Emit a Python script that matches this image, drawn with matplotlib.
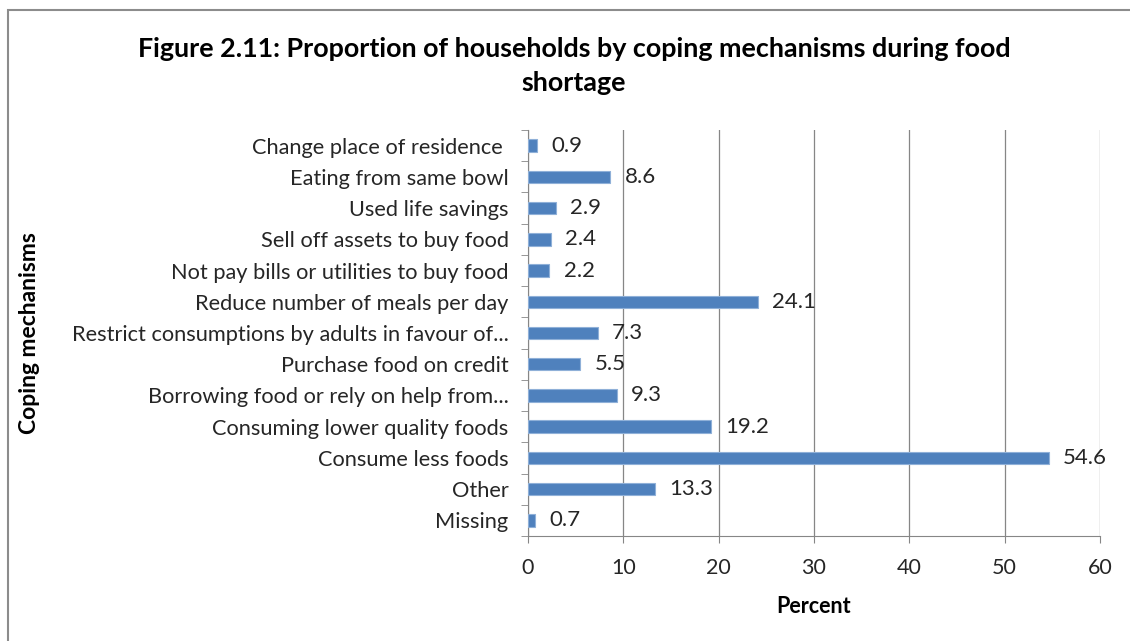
import numpy as np
import matplotlib.pyplot as plt
from matplotlib.patches import Rectangle

plt.rcParams['font.family'] = ['Lato', 'DejaVu Sans']

categories = ['Change place of residence ', 'Eating from same bowl', 'Used life savings',
              'Sell off assets to buy food', 'Not pay bills or utilities to buy food',
              'Reduce number of meals per day', 'Restrict consumptions by adults in favour of...',
              'Purchase food on credit', 'Borrowing food or rely on help from...',
              'Consuming lower quality foods', 'Consume less foods', 'Other', 'Missing']
percent = [0.9, 8.6, 2.9, 2.4, 2.2, 24.1, 7.3, 5.5, 9.3, 19.2, 54.6, 13.3, 0.7]
xticks = [0, 10, 20, 30, 40, 50, 60]

W, H = 1130, 641
fig = plt.figure(figsize=(W / 100, H / 100), dpi=100)
fig.patches.append(Rectangle((8 / W, -0.1), 1.2, 1 - 10 / H + 0.1, transform=fig.transFigure,
                             fill=False, edgecolor='#8c8c8c', lw=1.5))

ax = fig.add_axes([528 / W, 1 - 536 / H, (1100 - 528) / W, (536 - 130) / H])
y = np.arange(len(categories))
ax.barh(y, percent, height=0.4, color='#4f81bd', edgecolor='#8fb0d8', lw=0.8, zorder=3)
for yi, v in zip(y, percent):
    ax.annotate(f'{v}', (v, yi), xytext=(10.5, 0), textcoords='offset points',
                va='center', ha='left', fontsize=16, color='#262626')

ax.set_ylim(len(categories) - 0.5, -0.5)
ax.set_xlim(0, 60)
ax.set_xticks(xticks)
ax.set_yticks(y)
ax.set_yticklabels(categories, fontsize=15.7, color='#262626')
ax.set_yticks(np.arange(-0.5, len(categories)), minor=True)
ax.tick_params(axis='y', which='major', length=0, pad=14)
ax.tick_params(axis='y', which='minor', length=5, color='#868686')
ax.tick_params(axis='x', length=5, color='#868686', labelsize=15.5, labelcolor='#262626', pad=11)
ax.grid(axis='x', color='#868686', lw=0.9, zorder=0)
for s in ['top', 'right']:
    ax.spines[s].set_visible(False)
for s in ['left', 'bottom']:
    ax.spines[s].set_color('#868686')

ax.set_xlabel('Percent', fontsize=15.5, fontweight='bold', labelpad=13)
fig.text(30 / W, 1 - 333 / H, 'Coping mechanisms', rotation=90, fontsize=16.5,
         fontweight='bold', ha='center', va='center')
fig.text(574 / W, 1 - 66 / H, 'Figure 2.11: Proportion of households by coping mechanisms during food\nshortage',
         fontsize=19.4, fontweight='bold', ha='center', va='center', linespacing=1.5)

fig.savefig('out.png', dpi=100)
